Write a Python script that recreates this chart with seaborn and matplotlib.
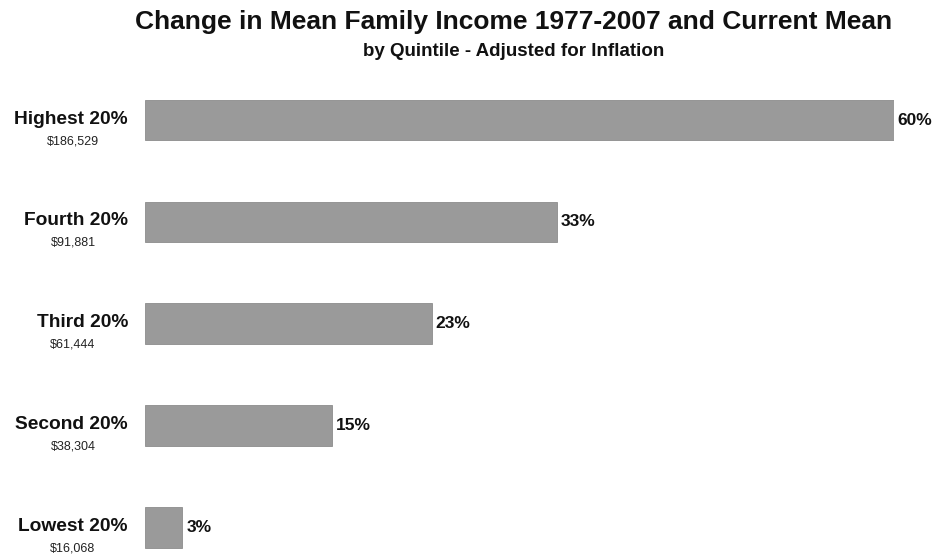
import matplotlib
matplotlib.use("Agg")
import matplotlib.pyplot as plt
import seaborn as sns
import pandas as pd

quintiles = ["Highest 20%", "Fourth 20%", "Third 20%", "Second 20%", "Lowest 20%"]
mean_income = ["$186,529", "$91,881", "$61,444", "$38,304", "$16,068"]
pct_change = [60, 33, 23, 15, 3]

df = pd.DataFrame({"quintile": quintiles, "change": pct_change})

sns.set_theme(style="white")
plt.rcParams["font.family"] = ["Liberation Sans", "DejaVu Sans"]

W, H = 936, 559
fig = plt.figure(figsize=(W / 100, H / 100), dpi=100)
fig.patch.set_facecolor("white")

# axes spans the bar area; 60% reaches the right edge
left_px, right_px, top_px, bot_px = 145, 894, 90, 549
ax = fig.add_axes([left_px / W, 1 - bot_px / H, (right_px - left_px) / W, (bot_px - top_px) / H])

sns.barplot(data=df, y="quintile", x="change", orient="h", color="#9a9a9a",
            width=0.4, saturation=1, edgecolor="#8c8c8c", linewidth=0.6, ax=ax)

ax.set_xlim(0, 60)
ax.set_ylim(4.211, -0.2945)
ax.set_xticks([])
ax.set_yticks([])
ax.set_xlabel("")
ax.set_ylabel("")
for s in ax.spines.values():
    s.set_visible(False)

for i, (q, inc, v) in enumerate(zip(quintiles, mean_income, pct_change)):
    ax.text(v + 0.3, i, f"{v}%", va="center", ha="left", fontsize=12.5,
            fontweight="bold", color="#111111", clip_on=False)
    ax.annotate(q, xy=(0, i), xycoords="data", xytext=(128 - left_px, 1),
                textcoords="offset pixels", ha="right", va="center",
                fontsize=13.8, fontweight="bold", color="#111111", annotation_clip=False)
    ax.annotate(inc, xy=(0, i), xycoords="data", xytext=(73 - left_px, -21),
                textcoords="offset pixels", ha="center", va="center",
                fontsize=9, color="#222222", annotation_clip=False)

fig.text(514 / W, 1 - 22 / H, "Change in Mean Family Income 1977-2007 and Current Mean",
         ha="center", va="center", fontsize=19, fontweight="bold", color="#111111")
fig.text(514 / W, 1 - 52 / H, "by Quintile - Adjusted for Inflation",
         ha="center", va="center", fontsize=13.5, fontweight="bold", color="#111111")

fig.savefig("out.png", dpi=100, facecolor="white")
